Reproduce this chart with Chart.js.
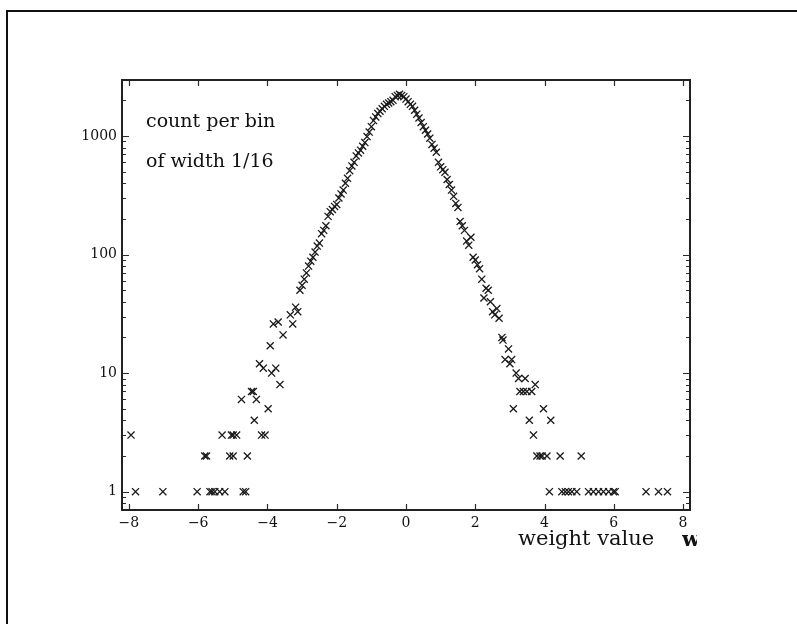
<!DOCTYPE html>
<html>
<head>
<meta charset="utf-8">
<script src="https://cdn.jsdelivr.net/npm/chart.js@4.4.0/dist/chart.umd.min.js"></script>
<style>
body { margin: 0; background: #fff; }
#wrap { position: relative; width: 797px; height: 624px; overflow: hidden; }
#edge { position: absolute; left: 6px; top: 10px; right: -10px; bottom: -10px; border-left: 2px solid #111; border-top: 2px solid #111; }
canvas { position: absolute; left: 0; top: 0; }
#xlabel { position: absolute; left: 518px; top: 526px; font: 21px 'DejaVu Serif'; color: #111; white-space: nowrap; }
#wcut { position: absolute; left: 682px; top: 526px; width: 15px; overflow: hidden; font: bold 21px 'DejaVu Serif'; color: #111; }
</style>
</head>
<body>
<div id="wrap">
  <div id="edge"></div>
  <canvas id="hist" width="797" height="624"></canvas>
  <div id="xlabel">weight value</div>
  <div id="wcut">w</div>
</div>
<script>
// central part of the histogram, bins of width 1/16
const coreX = [
    -3.1875, -3.125, -3.0625, -3.0, -2.9375, -2.875, -2.8125, -2.75, -2.6875, -2.625,
    -2.5625, -2.5, -2.4375, -2.375, -2.3125, -2.25, -2.1875, -2.125, -2.0625, -2.0,
    -1.9375, -1.875, -1.8125, -1.75, -1.6875, -1.625, -1.5625, -1.5, -1.4375, -1.375,
    -1.3125, -1.25, -1.1875, -1.125, -1.0625, -1.0, -0.9375, -0.875, -0.8125, -0.75,
    -0.6875, -0.625, -0.5625, -0.5, -0.4375, -0.375, -0.3125, -0.25, -0.1875, -0.125,
    -0.0625, 0.0, 0.0625, 0.125, 0.1875, 0.25, 0.3125, 0.375, 0.4375, 0.5,
    0.5625, 0.625, 0.6875, 0.75, 0.8125, 0.875, 0.9375, 1.0, 1.0625, 1.125,
    1.1875, 1.25, 1.3125, 1.375, 1.4375, 1.5, 1.5625, 1.625, 1.6875, 1.75,
    1.8125, 1.875, 1.9375, 2.0, 2.0625, 2.125, 2.1875, 2.25, 2.3125, 2.375,
    2.4375, 2.5, 2.5625, 2.625, 2.6875
];
const coreCount = [
    36, 33, 50, 55, 62, 70, 80, 88, 95, 105,
    118, 125, 150, 160, 175, 210, 230, 240, 255, 265,
    300, 325, 350, 400, 440, 510, 560, 600, 680, 720,
    760, 820, 880, 990, 1080, 1200, 1350, 1450, 1550, 1620,
    1700, 1780, 1850, 1900, 1950, 2000, 2150, 2200, 2250, 2200,
    2150, 2050, 1950, 1850, 1780, 1650, 1530, 1420, 1300, 1200,
    1120, 1040, 960, 850, 790, 730, 600, 550, 520, 495,
    430, 390, 350, 310, 270, 250, 190, 175, 160, 130,
    120, 140, 95, 90, 82, 76, 62, 43, 52, 50,
    40, 33, 31, 35, 29
];

// left tail
const leftX = [
    -3.27, -3.34, -3.55, -3.69, -3.83, -3.92, -4.23, -4.12, -3.76, -3.88,
    -3.64, -4.46, -4.41, -4.75, -4.32, -3.98, -4.38,
    -7.94, -5.31, -5.04, -4.99, -4.89, -4.17, -4.07,
    -5.81, -5.76, -5.09, -4.99, -4.58,
    -7.81, -7.02, -6.03, -5.66, -5.6, -5.52, -5.38, -5.23, -4.7, -4.63
];
const leftCount = [
    26, 31, 21, 27, 26, 17, 12, 11, 11, 10,
    8, 7, 7, 6, 6, 5, 4,
    3, 3, 3, 3, 3, 3, 3,
    2, 2, 2, 2, 2,
    1, 1, 1, 1, 1, 1, 1, 1, 1, 1
];

// right tail
const rightX = [
    2.77, 2.8, 2.86, 2.96, 3.0, 3.05, 3.1, 3.18, 3.25, 3.44,
    3.29, 3.39, 3.49, 3.63, 3.56, 3.68, 3.73, 3.97, 4.18,
    3.78, 3.87, 3.93, 4.07, 4.45, 5.06,
    4.14, 4.5, 4.6, 4.69, 4.79, 4.93, 5.27, 5.41, 5.56, 5.7,
    5.85, 5.99, 6.04, 6.93, 7.29, 7.55
];
const rightCount = [
    20, 19, 13, 16, 12, 13, 5, 10, 9, 9,
    7, 7, 7, 7, 4, 3, 8, 5, 4,
    2, 2, 2, 2, 2, 2,
    1, 1, 1, 1, 1, 1, 1, 1, 1, 1,
    1, 1, 1, 1, 1, 1
];

const xTicks = [-8, -6, -4, -2, 0, 2, 4, 6, 8];
const yTicks = [1, 10, 100, 1000];
const yMinor = [0.8, 0.9, 2, 3, 4, 5, 6, 7, 8, 9, 20, 30, 40, 50, 60, 70, 80, 90,
    200, 300, 400, 500, 600, 700, 800, 900, 2000];
const noteLines = ['count per bin', 'of width 1/16'];

function toPoints(xs, ys) {
    return xs.map((x, i) => ({ x: x, y: ys[i] }));
}

const points = [].concat(
    toPoints(leftX, leftCount),
    toPoints(coreX, coreCount),
    toPoints(rightX, rightCount)
);

// frame, inward ticks on all four sides, and the note in the corner
const framePlugin = {
    id: 'frame',
    afterDraw(chart) {
        const ctx = chart.ctx;
        const a = chart.chartArea;
        const xs = chart.scales.x;
        const ys = chart.scales.y;
        ctx.save();
        ctx.strokeStyle = '#2a2a2a';
        ctx.lineWidth = 1.2;
        ctx.beginPath();
        xTicks.forEach(v => {
            const px = Math.round(xs.getPixelForValue(v)) + 0.5;
            ctx.moveTo(px, a.bottom); ctx.lineTo(px, a.bottom - 6);
            ctx.moveTo(px, a.top); ctx.lineTo(px, a.top + 6);
        });
        yTicks.forEach(v => {
            const py = Math.round(ys.getPixelForValue(v)) + 0.5;
            ctx.moveTo(a.left, py); ctx.lineTo(a.left + 7, py);
            ctx.moveTo(a.right, py); ctx.lineTo(a.right - 7, py);
        });
        yMinor.forEach(v => {
            const py = Math.round(ys.getPixelForValue(v)) + 0.5;
            ctx.moveTo(a.left, py); ctx.lineTo(a.left + 4, py);
            ctx.moveTo(a.right, py); ctx.lineTo(a.right - 4, py);
        });
        ctx.stroke();

        ctx.lineWidth = 2;
        ctx.strokeStyle = '#222';
        ctx.strokeRect(a.left, a.top, a.right - a.left, a.bottom - a.top);

        ctx.fillStyle = '#111';
        ctx.font = '19px "DejaVu Serif"';
        ctx.textBaseline = 'alphabetic';
        noteLines.forEach((t, i) => ctx.fillText(t, a.left + 24, a.top + 47 + i * 40));
        ctx.restore();
    }
};

new Chart(document.getElementById('hist'), {
    type: 'scatter',
    data: {
        datasets: [{
            data: points,
            pointStyle: 'crossRot',
            pointRadius: 5,
            pointHoverRadius: 5,
            borderColor: '#1a1a1a',
            borderWidth: 1.3
        }]
    },
    options: {
        responsive: false,
        animation: false,
        devicePixelRatio: 1,
        layout: { padding: { left: 72, right: 107, top: 80, bottom: 74 } },
        plugins: { legend: { display: false }, tooltip: { enabled: false } },
        scales: {
            x: {
                type: 'linear',
                min: -8.2,
                max: 8.2,
                grid: { display: false, drawTicks: false },
                border: { display: false },
                afterBuildTicks: s => { s.ticks = xTicks.map(v => ({ value: v })); },
                afterFit: s => { s.height = 40; },
                ticks: {
                    padding: 5,
                    color: '#111',
                    font: { family: 'DejaVu Serif', size: 14 },
                    callback: v => v < 0 ? '\u2212' + Math.abs(v) : String(v)
                }
            },
            y: {
                type: 'logarithmic',
                min: 0.7,
                max: 2970,
                grid: { display: false, drawTicks: false },
                border: { display: false },
                afterBuildTicks: s => { s.ticks = yTicks.map(v => ({ value: v })); },
                afterFit: s => { s.width = 50; },
                ticks: {
                    padding: 5,
                    color: '#111',
                    font: { family: 'DejaVu Serif', size: 14 },
                    callback: v => String(v)
                }
            }
        }
    },
    plugins: [framePlugin]
});
</script>
</body>
</html>
